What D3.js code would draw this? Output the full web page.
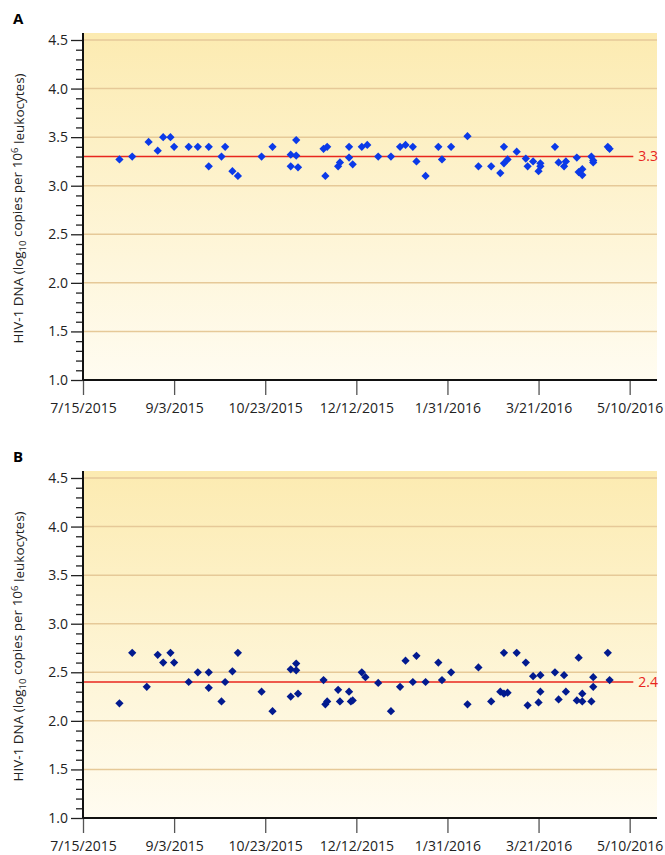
<!DOCTYPE html>
<html>
<head>
<meta charset="utf-8">
<script src="https://cdn.jsdelivr.net/npm/d3@7"></script>
<style>
  body { margin: 0; background: #fff; }
  svg text { font-family: "Open Sans", "Noto Sans", Arial, sans-serif; }
</style>
</head>
<body>
<div id="vis"></div>
<script>
const W = 665, H = 855;
const margin = { top: 33, left: 83, right: 8 };
const panelH = 347;        // plot height
const panelGap = 438;      // offset between panel A and B

// sampling dates shared by both panels
const datesA = ["2015-08-04","2015-08-11","2015-08-20","2015-08-25","2015-08-28","2015-09-01","2015-09-03","2015-09-11","2015-09-16","2015-09-22","2015-09-22","2015-09-29","2015-10-01","2015-10-05","2015-10-08","2015-10-21","2015-10-27","2015-11-06","2015-11-06","2015-11-09","2015-11-09","2015-11-10","2015-11-24","2015-11-25","2015-11-26","2015-12-02","2015-12-03","2015-12-08","2015-12-08","2015-12-10","2015-12-15","2015-12-18","2015-12-24","2015-12-31","2016-01-05","2016-01-08","2016-01-12","2016-01-14","2016-01-19","2016-01-26","2016-01-28","2016-02-02","2016-02-11","2016-02-17","2016-02-24","2016-02-29","2016-03-02","2016-03-02","2016-03-04","2016-03-09","2016-03-14","2016-03-15","2016-03-18","2016-03-21","2016-03-22","2016-03-22","2016-03-30","2016-04-01","2016-04-04","2016-04-05","2016-04-11","2016-04-12","2016-04-14","2016-04-14","2016-04-19","2016-04-20","2016-04-20","2016-04-28","2016-04-29"];
const valuesA = [3.27,3.30,3.45,3.36,3.50,3.50,3.40,3.40,3.40,3.40,3.20,3.30,3.40,3.15,3.10,3.30,3.40,3.32,3.20,3.47,3.31,3.19,3.38,3.10,3.40,3.20,3.24,3.40,3.29,3.22,3.40,3.42,3.30,3.30,3.40,3.42,3.40,3.25,3.10,3.40,3.27,3.40,3.51,3.20,3.20,3.13,3.40,3.23,3.27,3.35,3.28,3.20,3.25,3.15,3.20,3.23,3.40,3.24,3.20,3.25,3.29,3.14,3.17,3.11,3.30,3.26,3.24,3.40,3.38];

const datesB = ["2015-08-04","2015-08-11","2015-08-19","2015-08-25","2015-08-28","2015-09-01","2015-09-03","2015-09-11","2015-09-16","2015-09-22","2015-09-22","2015-09-29","2015-10-01","2015-10-05","2015-10-08","2015-10-21","2015-10-27","2015-11-06","2015-11-06","2015-11-09","2015-11-09","2015-11-10","2015-11-24","2015-11-25","2015-11-26","2015-12-02","2015-12-03","2015-12-08","2015-12-09","2015-12-10","2015-12-15","2015-12-17","2015-12-24","2015-12-31","2016-01-05","2016-01-08","2016-01-12","2016-01-14","2016-01-19","2016-01-26","2016-01-28","2016-02-02","2016-02-11","2016-02-17","2016-02-24","2016-02-29","2016-03-02","2016-03-02","2016-03-04","2016-03-09","2016-03-14","2016-03-15","2016-03-18","2016-03-21","2016-03-22","2016-03-22","2016-03-30","2016-04-01","2016-04-04","2016-04-05","2016-04-11","2016-04-12","2016-04-14","2016-04-14","2016-04-19","2016-04-20","2016-04-20","2016-04-28","2016-04-29"];
const valuesB = [2.18,2.70,2.35,2.68,2.60,2.70,2.60,2.40,2.50,2.50,2.34,2.20,2.40,2.51,2.70,2.30,2.10,2.53,2.25,2.59,2.52,2.28,2.42,2.17,2.20,2.32,2.20,2.30,2.20,2.21,2.50,2.45,2.39,2.10,2.35,2.62,2.40,2.67,2.40,2.60,2.42,2.50,2.17,2.55,2.20,2.30,2.70,2.28,2.29,2.70,2.60,2.16,2.46,2.19,2.47,2.30,2.50,2.22,2.47,2.30,2.21,2.65,2.28,2.20,2.20,2.45,2.35,2.70,2.42];

const xTickLabels = ["2015-07-15","2015-09-03","2015-10-23","2015-12-12","2016-01-31","2016-03-21","2016-05-10"];
const yTicks = [1.0, 1.5, 2.0, 2.5, 3.0, 3.5, 4.0, 4.5];
const refA = 3.3, refB = 2.4;

const parse = d3.utcParse("%Y-%m-%d");
const fmt = d3.utcFormat("%-m/%-d/%Y");

const svg = d3.select("#vis").append("svg")
    .attr("width", W)
    .attr("height", H);

const defs = svg.append("defs");
const grad = defs.append("linearGradient")
    .attr("id", "bg")
    .attr("x1", 0).attr("y1", 0).attr("x2", 0).attr("y2", 1);
grad.append("stop").attr("offset", "0%").attr("stop-color", "#fcebb1");
grad.append("stop").attr("offset", "100%").attr("stop-color", "#fffcf1");

const x = d3.scaleUtc()
    .domain([parse("2015-07-15"), parse("2016-05-25")])
    .range([margin.left, W - margin.right]);

const y = d3.scaleLinear()
    .domain([1, 4.572])
    .range([panelH, 0]);

const diamond = d3.symbol().type(d3.symbolSquare).size(34);

function drawPanel(offsetY, letter, dates, values, ref, color) {
    const g = svg.append("g").attr("transform", `translate(0,${offsetY + margin.top})`);

    svg.append("text")
        .attr("x", 13)
        .attr("y", offsetY + 24)
        .style("font-size", "15px")
        .style("font-weight", "bold")
        .text(letter);

    g.append("rect")
        .attr("x", margin.left)
        .attr("y", 0)
        .attr("width", W - margin.right - margin.left)
        .attr("height", panelH)
        .attr("fill", "url(#bg)");

    // grid lines
    g.selectAll(".grid")
        .data(yTicks.filter(d => d > 1))
        .enter()
        .append("line")
        .attr("x1", margin.left)
        .attr("x2", W - margin.right)
        .attr("y1", d => y(d))
        .attr("y2", d => y(d))
        .attr("stroke", "#e6c998")
        .attr("stroke-width", 1.5);

    // reference line
    const refEnd = parse("2016-05-12");
    g.append("line")
        .attr("x1", margin.left)
        .attr("x2", x(refEnd))
        .attr("y1", y(ref))
        .attr("y2", y(ref))
        .attr("stroke", "#e8261e")
        .attr("stroke-width", 1.5);

    g.append("text")
        .attr("x", x(refEnd) + 5)
        .attr("y", y(ref))
        .attr("dy", "0.35em")
        .style("font-size", "14px")
        .style("fill", "#e8261e")
        .text(ref.toFixed(1));

    // points
    const pts = dates.map((d, i) => ({ date: parse(d), value: values[i] }));
    g.selectAll(".pt")
        .data(pts)
        .enter()
        .append("path")
        .attr("d", diamond)
        .attr("transform", d => `translate(${x(d.date)},${y(d.value)}) rotate(45)`)
        .attr("fill", color);

    // minor y ticks
    const minor = d3.range(10, 46).map(d => d / 10).filter(d => Math.round(d * 10) % 5 !== 0);
    g.append("g")
        .attr("transform", `translate(${margin.left},0)`)
        .call(d3.axisLeft(y).tickValues(minor).tickSize(7).tickFormat(""))
        .call(a => a.select(".domain").remove())
        .call(a => a.selectAll("line").attr("stroke", "#222").attr("stroke-width", 1.3));

    // major y ticks
    g.append("g")
        .attr("transform", `translate(${margin.left},0)`)
        .call(d3.axisLeft(y).tickValues(yTicks).tickSize(12).tickPadding(3).tickFormat(d3.format(".1f")))
        .call(a => a.select(".domain").remove())
        .call(a => a.selectAll("line").attr("stroke", "#222").attr("stroke-width", 1.3))
        .call(a => a.selectAll("text")
            .style("font-size", "14px")
            .style("fill", "#222")
            .style("font-family", "'Open Sans', Arial, sans-serif"));

    // x axis
    g.append("g")
        .attr("transform", `translate(0,${panelH})`)
        .call(d3.axisBottom(x).tickValues(xTickLabels.map(parse)).tickSize(15).tickSizeOuter(0).tickPadding(8).tickFormat(fmt))
        .call(a => a.select(".domain").remove())
        .call(a => a.selectAll("line").attr("stroke", "#555").attr("stroke-width", 1.3))
        .call(a => a.selectAll("text")
            .style("font-size", "14px")
            .style("fill", "#222")
            .style("font-family", "'Open Sans', Arial, sans-serif"));

    // axis lines
    g.append("line")
        .attr("x1", margin.left).attr("x2", margin.left)
        .attr("y1", 0).attr("y2", panelH)
        .attr("stroke", "#111").attr("stroke-width", 2);
    g.append("line")
        .attr("x1", margin.left).attr("x2", W - margin.right)
        .attr("y1", panelH).attr("y2", panelH)
        .attr("stroke", "#111").attr("stroke-width", 2);

    // y label
    const lbl = g.append("text")
        .attr("transform", `translate(23,${panelH / 2 + 2}) rotate(-90)`)
        .attr("text-anchor", "middle")
        .style("font-size", "13.5px")
        .style("fill", "#222");
    lbl.append("tspan").text("HIV-1 DNA (log");
    lbl.append("tspan").attr("dy", "0.3em").style("font-size", "9.5px").text("10");
    lbl.append("tspan").attr("dy", "-0.3em").text(" copies per 10");
    lbl.append("tspan").attr("dy", "-0.45em").style("font-size", "9.5px").text("6");
    lbl.append("tspan").attr("dy", "0.45em").text(" leukocytes)");
}

drawPanel(0, "A", datesA, valuesA, refA, "#0b3ae8");
drawPanel(panelGap, "B", datesB, valuesB, refB, "#021a8f");
</script>
</body>
</html>
